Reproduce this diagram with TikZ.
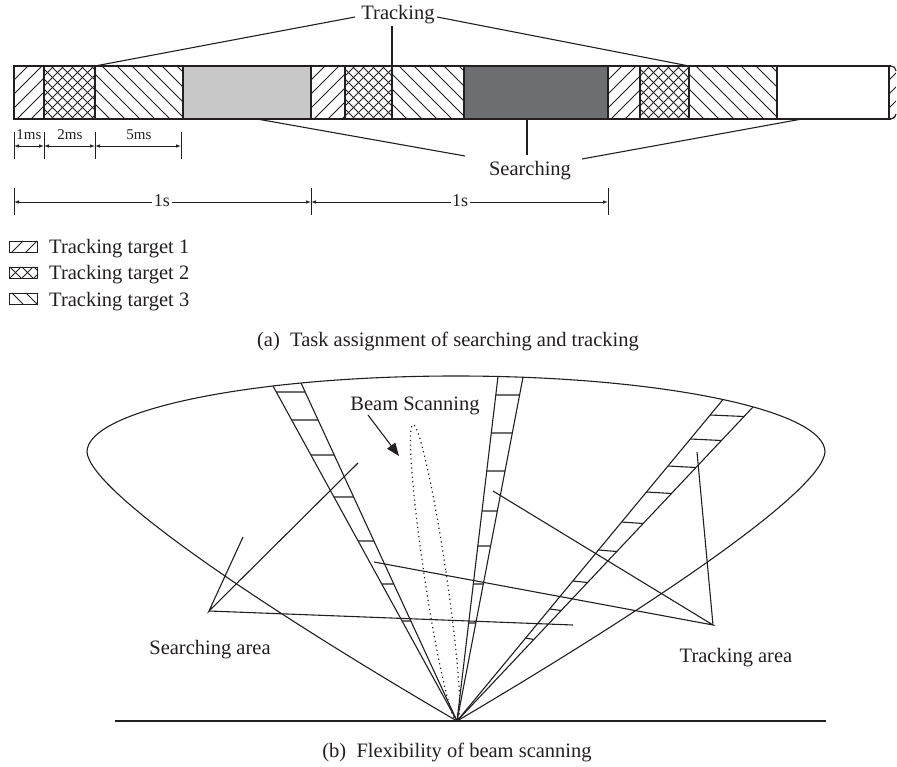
\documentclass[tikz,border=0pt]{standalone}
\usepackage{fontspec}
\setmainfont{Liberation Serif}
\usetikzlibrary{arrows.meta,calc}
\definecolor{ink}{HTML}{231F20}
\definecolor{lightg}{HTML}{C8C8C9}
\definecolor{darkg}{HTML}{6D6E71}
\newcommand{\hatchNE}[5]{%
  \begin{scope}
  \clip (#1,#2) rectangle (#3,#4);
  \pgfmathsetmacro{\hh}{#4-#2}
  \pgfmathtruncatemacro{\hn}{(#3-#1+\hh)/#5+1}
  \foreach \k in {0,...,\hn}{\draw[hatchln] ({#1-\hh+\k*#5},#4) -- ++(\hh,-\hh);}
  \end{scope}}
\newcommand{\hatchNW}[5]{%
  \begin{scope}
  \clip (#1,#2) rectangle (#3,#4);
  \pgfmathsetmacro{\hh}{#4-#2}
  \pgfmathtruncatemacro{\hn}{(#3-#1+\hh)/#5+1}
  \foreach \k in {0,...,\hn}{\draw[hatchln] ({#1-\hh+\k*#5},#2) -- ++(\hh,\hh);}
  \end{scope}}
\newcommand{\hatchXX}[5]{\hatchNE{#1}{#2}{#3}{#4}{#5}\hatchNW{#1}{#2}{#3}{#4}{#5}}
\begin{document}
\begin{tikzpicture}[x=1pt,y=-1pt,
  ln/.style={draw=ink,line width=1.1pt},
  hatchln/.style={draw=ink,line width=0.95pt},
  dimln/.style={draw=ink,line width=0.8pt,{Latex[length=5pt,width=3.5pt]}-{Latex[length=5pt,width=3.5pt]}},
  lbl/.style={font=\fontsize{20.5}{24}\selectfont,text=ink,inner sep=0pt,anchor=base},
  smalllbl/.style={font=\fontsize{15}{18}\selectfont,text=ink,inner sep=0pt,anchor=base},
  dimlbl/.style={font=\fontsize{18}{20}\selectfont,text=ink,inner sep=1.5pt,anchor=base,fill=white}]
\useasboundingbox (0,0) rectangle (897,767);

% ---------------- (a) time line bar ----------------
\fill[lightg] (183,66) rectangle (311,119);
\fill[darkg] (464,66) rectangle (608,119);
\hatchNE{14}{66}{44}{119}{14}
\hatchXX{44}{66}{95}{119}{10}
\hatchNW{95}{66}{183}{119}{15}
\hatchNE{311}{66}{345}{119}{14}
\hatchXX{345}{66}{392}{119}{10}
\hatchNW{392}{66}{464}{119}{15}
\hatchNE{608}{66}{640}{119}{14}
\hatchXX{640}{66}{689}{119}{10}
\hatchNW{689}{66}{777}{119}{15}
\begin{scope}
  \clip (889,66) -- (891,66) to[out=0,in=90] (896,71) -- (896,114) to[out=-90,in=0] (891,119) -- (889,119) -- cycle;
  \hatchNE{889}{66}{897}{119}{14}
\end{scope}
\draw[ln] (891,66) -- (14,66) -- (14,119) -- (891,119);
\draw[ln] (891,66) to[out=0,in=90] (896,71);
\draw[ln] (891,119) to[out=0,in=-90] (896,114);
\foreach \xx in {44,95,183,311,345,392,464,608,640,689,777,889}
  \draw[ln] (\xx,66) -- (\xx,119);

% Tracking / Searching labels
\node[lbl] (trk) at (398,19.3) {Tracking};
\coordinate (trkL) at (355,17);
\coordinate (trkR) at (437,17);
\coordinate (trkM) at (392,26);
\coordinate (t1) at (95,66);
\coordinate (t2) at (392,66);
\coordinate (t3) at (689,66);
\draw[ln] (t1) -- (trkL);
\draw[ln] (t2) -- (trkM);
\draw[ln] (t3) -- (trkR);

\node[lbl] (srch) at (530,176) {Searching};
\coordinate (srL) at (465,156);
\coordinate (srM) at (527,155);
\coordinate (srR) at (582,159);
\coordinate (s1) at (257,119);
\coordinate (s2) at (527,119);
\coordinate (s3) at (802,119);
\draw[ln] (s1) -- (srL);
\draw[ln] (s2) -- (srM);
\draw[ln] (s3) -- (srR);

% small dimensions
\foreach \xx in {14,44,95,181} \draw[ln,line width=0.8pt] (\xx,132) -- (\xx,159);
\coordinate (d0) at (14,146);
\coordinate (d1) at (44,146);
\coordinate (d2) at (95,146);
\coordinate (d3) at (181,146);
\draw[dimln] (d0) -- (d1);
\draw[dimln] (d1) -- (d2);
\draw[dimln] (d2) -- (d3);
\node[smalllbl] (ms1) at (29,140) {1ms};
\node[smalllbl] (ms2) at (70,140) {2ms};
\node[smalllbl] (ms5) at (139,140) {5ms};

% big dimensions
\foreach \xx in {14,311,608} \draw[ln,line width=0.8pt] (\xx,188) -- (\xx,215);
\coordinate (D0) at (14,202);
\coordinate (D1) at (311,202);
\coordinate (D2) at (608,202);
\draw[dimln] (D0) -- (D1);
\draw[dimln] (D1) -- (D2);
\node[dimlbl] (sec1) at (162,207) {1s};
\node[dimlbl] (sec2) at (460,207) {1s};

% legend
\hatchNE{9}{241}{37}{252}{14}
\draw[ln,line width=0.9pt] (9,241) rectangle (37,252);
\hatchXX{9}{267}{37}{278}{12}
\draw[ln,line width=0.9pt] (9,267) rectangle (37,278);
\hatchNW{9}{293}{37}{304}{14}
\draw[ln,line width=0.9pt] (9,293) rectangle (37,304);
\node[lbl,anchor=base west] (lg1) at (49,254) {Tracking target 1};
\node[lbl,anchor=base west] (lg2) at (49,280) {Tracking target 2};
\node[lbl,anchor=base west] (lg3) at (49,306.5) {Tracking target 3};

\node[lbl] (capa) at (448,346) {(a)\ \ Task assignment of searching and tracking};

% ---------------- (b) beam scanning ----------------
\coordinate (apex) at (457,721);
\draw[ln] (apex) .. controls (250,600) and (90,490) .. (87,452)
  arc[start angle=180,end angle=360,x radius=369,y radius=76]
  .. controls (822,490) and (662,600) .. (apex);

% strips
\coordinate (s1a) at (273,386);
\coordinate (s1b) at (301,383);
\coordinate (s2a) at (498,376.5);
\coordinate (s2b) at (523,377.3);
\coordinate (s3a) at (723,399.5);
\coordinate (s3b) at (753,407);
\foreach \p in {s1a,s1b,s2a,s2b,s3a,s3b} \draw[ln] (apex) -- (\p);
\foreach \y in {392,420,455,497,541,584,621}{
  \pgfmathsetmacro{\ta}{(721-\y)/(721-386)}
  \pgfmathsetmacro{\tb}{(721-\y)/(721-383)}
  \draw[ln] ($(apex)!\ta!(s1a)$) -- ($(apex)!\tb!(s1b)$);
}
\foreach \y in {395,433,471,511,546,584,623}{
  \pgfmathsetmacro{\ta}{(721-\y)/(721-376.5)}
  \pgfmathsetmacro{\tb}{(721-\y)/(721-377.3)}
  \draw[ln] ($(apex)!\ta!(s2a)$) -- ($(apex)!\tb!(s2b)$);
}
\foreach \y in {415,439,466,492,522,550,581,609,638}{
  \pgfmathsetmacro{\ta}{(721-\y)/(721-399.5)}
  \pgfmathsetmacro{\tb}{(721-\y-1.5)/(721-407)}
  \draw[ln] ($(apex)!\ta!(s3a)$) -- ($(apex)!\tb!(s3b)$);
}

% dotted beam
\draw[ink,line width=1.2pt,dash pattern=on 1.2pt off 3.4pt,rotate around={8.45:(435,573)}]
  (435,573) ellipse [x radius=11,y radius=150];
\node[lbl] (beam) at (415,410.7) {Beam Scanning};
\coordinate (bmA) at (368,415);
\coordinate (bmB) at (399,456);
\draw[ln,-{Triangle[length=13pt,width=10pt]}] (bmA) -- (bmB);

% annotation lines
\coordinate (sa) at (209,611);
\coordinate (sa1) at (243,537);
\coordinate (sa2) at (358,463);
\coordinate (sa3) at (573,625);
\draw[ln] (sa1) -- (sa) -- (sa2);
\draw[ln] (sa) -- (sa3);
\coordinate (ta) at (713,625);
\coordinate (ta1) at (374,562);
\coordinate (ta2) at (493,491);
\coordinate (ta3) at (697,452);
\draw[ln] (ta1) -- (ta) -- (ta2);
\draw[ln] (ta) -- (ta3);
\node[lbl] (sarea) at (210,654) {Searching area};
\node[lbl] (tarea) at (736,662) {Tracking area};

% ground
\coordinate (g1) at (115,721);
\coordinate (g2) at (826,721);
\draw[ln,line width=1.3pt] (g1) -- (g2);
\node[lbl] (capb) at (457,757) {(b)\ \ Flexibility of beam scanning};
\end{tikzpicture}
\end{document}
